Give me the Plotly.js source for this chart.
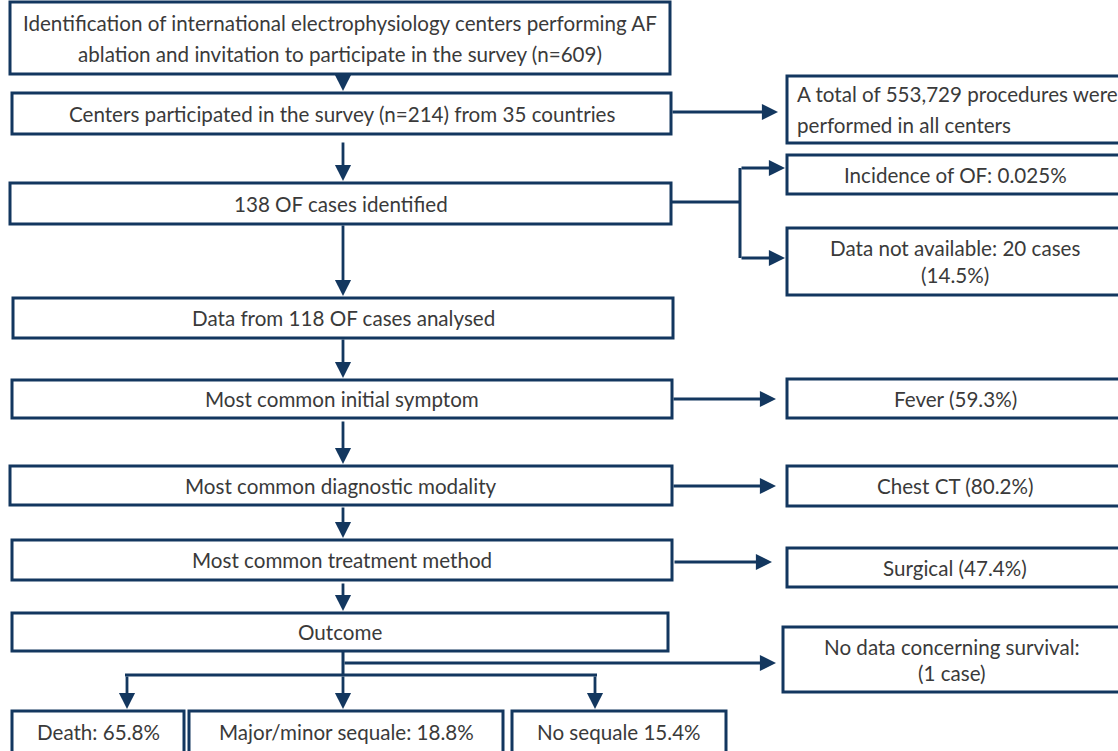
<!DOCTYPE html>
<html>
<head>
<meta charset="utf-8">
<script src="https://cdn.plot.ly/plotly-3.0.1.min.js"></script>
<style>html,body{margin:0;padding:0;background:#fff;}#chart{width:1118px;height:751px;}</style>
</head>
<body>
<div id="chart"></div>
<script>
// ---- Content (texts of the flowchart) ----
const mainSteps = [
  "Identification of international electrophysiology centers performing AF|ablation and invitation to participate in the survey (n=609)",
  "Centers participated in the survey (n=214) from 35 countries",
  "138 OF cases identified",
  "Data from 118 OF cases analysed",
  "Most common initial symptom",
  "Most common diagnostic modality",
  "Most common treatment method",
  "Outcome"
];
const sideNotes = [
  "A total of 553,729 procedures were|performed in all centers",
  "Incidence of OF: 0.025%",
  "Data not available: 20 cases|(14.5%)",
  "Fever (59.3%)",
  "Chest CT (80.2%)",
  "Surgical (47.4%)",
  "No data concerning survival:|(1 case)"
];
const outcomes = ["Death: 65.8%", "Major/minor sequale: 18.8%", "No sequale 15.4%"];

// ---- Geometry (pixel coordinates, y downward) ----
const mainBoxes = [
  [10,2,670,74],[12,93,671,134],[10,183,671,224],[13,298,673,338],
  [12,380,672,418],[10,466,672,505],[12,540,672,580],[12,613,668,651]
];
const sideBoxes = [
  [787,76,1126,143],[787,155,1126,194],[787,228,1126,295],[787,379,1126,418],
  [787,466,1126,506],[787,548,1126,587],[783,627,1126,692]
];
const textBoxes = [
  [787,76,1126,143],[787,155,1123,194],[787,228,1123,295],[787,379,1123,418],
  [787,466,1123,506],[787,548,1123,587],[783,627,1121,692]
];
const outBoxes = [[12,711,184,770],[189,711,503,770],[512,711,726,770]];

const NAVY = "#13375f";
const TXT = "#3a3a3a";
const FONT = "Lato, 'Open Sans', sans-serif";
const FS = 20.6;
const LINEGAP = [31, 27, 27, 27, 27, 27, 26];

const shapes = [];
const annotations = [];

function box(b){
  shapes.push({type:"rect", xref:"x", yref:"y", x0:b[0], y0:b[1], x1:b[2], y1:b[3],
    line:{color:NAVY, width:3}, fillcolor:"rgba(0,0,0,0)"});
}
function label(b, t, left, gap){
  const parts = t.split("|");
  const cy = (b[1]+b[3])/2;
  parts.forEach((p,k)=>{
    const y = cy + (k - (parts.length-1)/2) * (gap || 27);
    annotations.push({xref:"x", yref:"y", x: left ? b[0]+8 : (b[0]+b[2])/2, y:y,
      xanchor: left ? "left" : "center", yanchor:"middle", align: left ? "left" : "center",
      text:p, showarrow:false, font:{family:FONT, size:FS, color:TXT}});
  });
}
function line(x0,y0,x1,y1){
  shapes.push({type:"line", xref:"x", yref:"y", x0:x0, y0:y0, x1:x1, y1:y1, line:{color:NAVY, width:3}});
}
function arrow(x0,y0,x1,y1){
  annotations.push({xref:"x", yref:"y", axref:"x", ayref:"y", x:x1, y:y1, ax:x0, ay:y0,
    text:"", showarrow:true, arrowhead:2, arrowsize:1.15, arrowwidth:2.8, arrowcolor:NAVY, standoff:0, startstandoff:0});
}

mainBoxes.forEach((b,i)=>{ box(b); label(b, mainSteps[i], false, i===0 ? 31 : 27); });
sideBoxes.forEach((b)=>{ box(b); });
textBoxes.forEach((b,i)=>{ label(b, sideNotes[i], i===0, LINEGAP[i]); });
outBoxes.forEach((b,i)=>{ box(b); label([b[0],b[1],b[2],752], outcomes[i], false); });

// vertical main flow
arrow(343,74,343,91);
arrow(343,141,343,181);
arrow(343,224,343,296);
arrow(343,338,343,378);
arrow(343,420,343,464);
arrow(343,506,343,538);
arrow(343,582,343,611);

// side arrows
arrow(671,112,778,112);
line(671,202,740,202);
line(740,168,740,258);
arrow(740,168,785,168);
arrow(740,258,785,258);
arrow(672,399,776,399);
arrow(672,486,776,486);
arrow(673,562,772,562);

// outcome branches
line(343,651,343,675);
arrow(343,663,776,663);
line(125,675,597,675);
arrow(127,675,127,709);
arrow(343,675,343,709);
arrow(595,675,595,709);

const layout = {
  width:1118, height:751,
  margin:{l:0,r:0,t:0,b:0},
  paper_bgcolor:"#ffffff", plot_bgcolor:"#ffffff",
  xaxis:{range:[0,1118], visible:false, fixedrange:true},
  yaxis:{range:[751,0], visible:false, fixedrange:true},
  shapes:shapes, annotations:annotations, showlegend:false
};
Plotly.newPlot("chart", [{x:[0],y:[0],mode:"markers",marker:{opacity:0},hoverinfo:"skip"}], layout, {displayModeBar:false, staticPlot:true});
</script>
</body>
</html>
